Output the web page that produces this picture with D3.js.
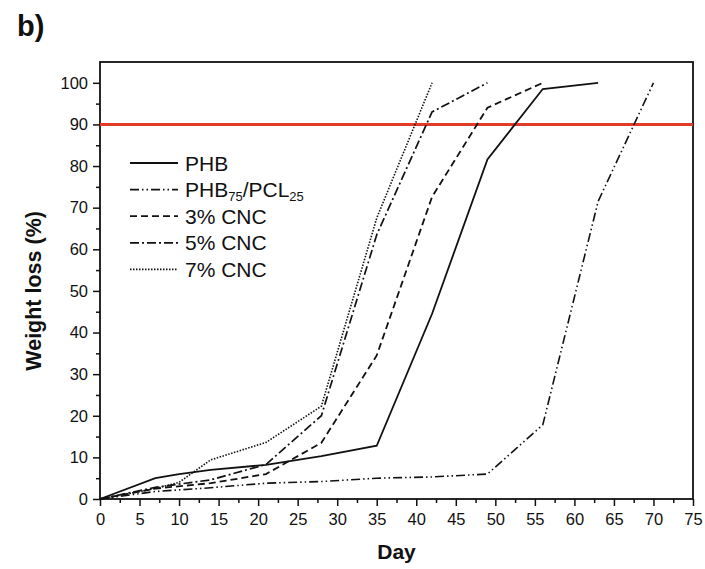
<!DOCTYPE html>
<html>
<head>
<meta charset="utf-8">
<script src="https://cdn.jsdelivr.net/npm/d3@7"></script>
<style>
  body { margin: 0; background: #fff; }
  text { font-family: "Liberation Sans", Arial, sans-serif; fill: #111; }
</style>
</head>
<body>
<div id="chart"></div>
<script>
const width = 705;
const height = 569;

const margin = { top: 62, right: 12, bottom: 70, left: 100 };

// sampling days and weight loss (%) per sample, null = not measured
const days = [0, 7, 10, 14, 21, 28, 35, 42, 49, 56, 63, 70];
const phb = [0, 5, 6, 7, 8.2, 10.3, 12.8, 44.5, 81.6, 98.5, 100, null];
const phbPcl = [0, 1.8, null, 2.7, 3.8, 4.2, 5.0, 5.3, 6, 17.8, 71.5, 100];
const cnc3 = [0, 2.5, null, 3.8, 6, 13.5, 34.5, 72.6, 94, 100, null, null];
const cnc5 = [0, 2.8, null, 4.6, 8.3, 20, 63.5, 93, 100, null, null, null];
const cnc7 = [0, 2.5, 4, 9.4, 13.6, 22.3, 67.5, 100, null, null, null, null];

const seriesNames = ['PHB', 'PHB75/PCL25', '3% CNC', '5% CNC', '7% CNC'];
const threshold = 90;

const xTicks = d3.range(0, 76, 5);
const yTicks = d3.range(0, 101, 10);

const series = [phb, phbPcl, cnc3, cnc5, cnc7].map((vals, i) => ({
    name: seriesNames[i],
    points: days.map((d, j) => ({ day: d, value: vals[j] })).filter(p => p.value !== null)
}));

const dashScale = d3.scaleOrdinal()
    .domain(seriesNames)
    .range(['none', '9,3,1.5,3,1.5,3', '7,4', '9,3,2,3', '1.5,1.5']);

const widthScale = d3.scaleOrdinal()
    .domain(seriesNames)
    .range([1.8, 1.6, 1.8, 1.7, 1.6]);

const svg = d3.select('#chart').append('svg')
    .attr('width', width)
    .attr('height', height);

svg.append('rect')
    .attr('width', width)
    .attr('height', height)
    .attr('fill', '#fff');

const xScale = d3.scaleLinear()
    .domain([0, 75])
    .range([margin.left, width - margin.right]);

const yScale = d3.scaleLinear()
    .domain([0, 105])
    .range([height - margin.bottom, margin.top]);

// minor ticks first, then major ticks with labels
svg.append('g')
    .attr('transform', `translate(0,${yScale(0)})`)
    .call(d3.axisBottom(xScale).tickValues(d3.range(2.5, 75, 5)).tickSize(4).tickFormat(''))
    .call(g => g.select('.domain').remove());

svg.append('g')
    .attr('class', 'x-axis')
    .attr('transform', `translate(0,${yScale(0)})`)
    .call(d3.axisBottom(xScale).tickValues(xTicks).tickSize(7).tickPadding(7))
    .call(g => g.select('.domain').remove());

svg.append('g')
    .attr('transform', `translate(${xScale(0)},0)`)
    .call(d3.axisLeft(yScale).tickValues(d3.range(5, 105, 10)).tickSize(4).tickFormat(''))
    .call(g => g.select('.domain').remove());

svg.append('g')
    .attr('class', 'y-axis')
    .attr('transform', `translate(${xScale(0)},0)`)
    .call(d3.axisLeft(yScale).tickValues(yTicks).tickSize(7).tickPadding(5))
    .call(g => g.select('.domain').remove());

svg.selectAll('.tick line')
    .attr('stroke', '#111')
    .attr('stroke-width', 1.5);

svg.selectAll('.tick text')
    .attr('font-size', '16.5px')
    .attr('font-family', '"Liberation Sans", Arial, sans-serif')
    .attr('fill', '#111');

// frame around the plot
svg.append('rect')
    .attr('x', xScale(0))
    .attr('y', yScale(105))
    .attr('width', xScale(75) - xScale(0))
    .attr('height', yScale(0) - yScale(105))
    .attr('fill', 'none')
    .attr('stroke', '#111')
    .attr('stroke-width', 1.8);

// 90% line
svg.append('line')
    .attr('x1', xScale(0))
    .attr('x2', xScale(75))
    .attr('y1', yScale(threshold))
    .attr('y2', yScale(threshold))
    .attr('stroke', '#e33b26')
    .attr('stroke-width', 3);

const lineGenerator = d3.line()
    .x(d => xScale(d.day))
    .y(d => yScale(d.value));

svg.selectAll('.series')
    .data(series)
    .join('path')
    .attr('class', 'series')
    .attr('d', d => lineGenerator(d.points))
    .attr('fill', 'none')
    .attr('stroke', '#111')
    .attr('stroke-width', d => widthScale(d.name))
    .attr('stroke-dasharray', d => dashScale(d.name));

// legend
const legend = svg.append('g')
    .attr('transform', 'translate(130,163)');

const legendRows = legend.selectAll('.legend-row')
    .data(seriesNames)
    .join('g')
    .attr('class', 'legend-row')
    .attr('transform', (d, i) => `translate(0,${i * 26.6})`);

legendRows.append('line')
    .attr('x1', 0)
    .attr('x2', 48)
    .attr('stroke', '#111')
    .attr('stroke-width', d => widthScale(d))
    .attr('stroke-dasharray', d => dashScale(d));

legendRows.append('text')
    .attr('x', 55)
    .attr('y', 7.5)
    .attr('font-size', '21px')
    .each(function(d) {
        const t = d3.select(this);
        if (d === 'PHB75/PCL25') {
            t.append('tspan').text('PHB');
            t.append('tspan').attr('font-size', '13px').attr('dy', 4).text('75');
            t.append('tspan').attr('dy', -4).text('/PCL');
            t.append('tspan').attr('font-size', '13px').attr('dy', 4).text('25');
        } else {
            t.text(d);
        }
    });

// axis titles
svg.append('text')
    .attr('x', (xScale(0) + xScale(75)) / 2)
    .attr('y', 559)
    .attr('text-anchor', 'middle')
    .attr('font-size', '21px')
    .attr('font-weight', 'bold')
    .text('Day');

svg.append('text')
    .attr('transform', `translate(41,${yScale(50)}) rotate(-90)`)
    .attr('text-anchor', 'middle')
    .attr('font-size', '21.5px')
    .attr('font-weight', 'bold')
    .text('Weight loss (%)');

svg.append('text')
    .attr('x', 17)
    .attr('y', 36)
    .attr('font-size', '29px')
    .attr('font-weight', 'bold')
    .text('b)');
</script>
</body>
</html>
